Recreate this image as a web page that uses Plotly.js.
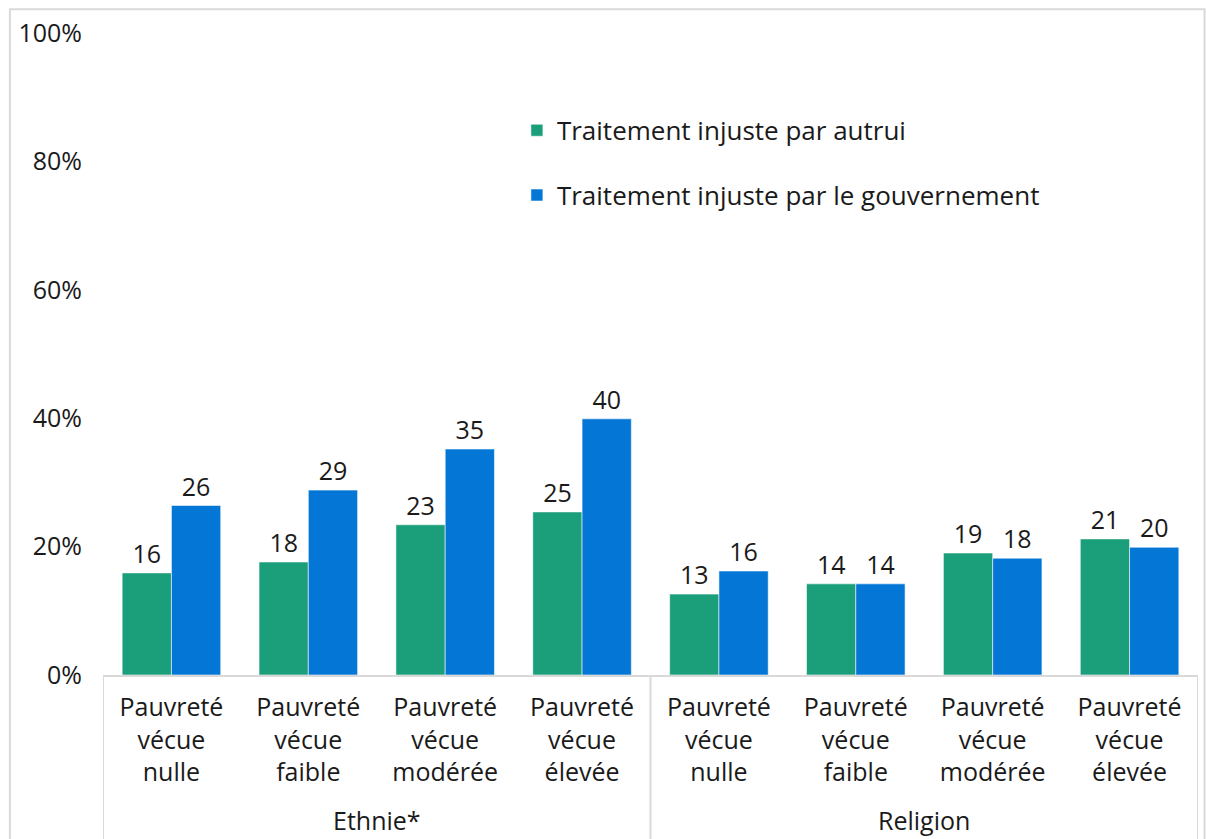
<!DOCTYPE html>
<html>
<head>
<meta charset="utf-8">
<script src="https://cdn.plot.ly/plotly-3.0.1.min.js"></script>
<style>html,body{margin:0;padding:0;background:#fff;}#chart{width:1206px;height:839px;}</style>
</head>
<body>
<div id="chart"></div>
<script>
// Data
const categories = [
  "Pauvreté<br>vécue<br>nulle", "Pauvreté<br>vécue<br>faible", "Pauvreté<br>vécue<br>modérée", "Pauvreté<br>vécue<br>élevée",
  "Pauvreté<br>vécue<br>nulle", "Pauvreté<br>vécue<br>faible", "Pauvreté<br>vécue<br>modérée", "Pauvreté<br>vécue<br>élevée"
];
const groups = ["Ethnie*", "Religion"];
const groupSize = 4;
const seriesNames = ["Traitement injuste par autrui", "Traitement injuste par le gouvernement"];
const autrui = [15.9, 17.6, 23.4, 25.4, 12.6, 14.2, 19.0, 21.2];
const gouvernement = [26.4, 28.8, 35.2, 39.9, 16.2, 14.2, 18.2, 19.9];
const yTickVals = [0, 20, 40, 60, 80, 100];
const yTickText = ["0%", "20%", "40%", "60%", "80%", "100%"];

const xIdx = categories.map((_, i) => i);
const FONT = "'Open Sans', 'Noto Sans', sans-serif";
const TXT = "#1a1a1a";
const colors = ["#1b9e7a", "#0477d6"];

function barTrace(vals, name, color, grp) {
  return {
    type: "bar", x: xIdx, y: vals, name: name, legendgroup: grp,
    marker: {color: color, line: {color: "rgba(255,255,255,0.55)", width: 1}},
    text: vals.map(v => Math.round(v).toString()),
    textposition: "outside", cliponaxis: false,
    textfont: {family: FONT, size: 25, color: TXT},
    hoverinfo: "skip"
  };
}

const data = [
  barTrace(autrui, seriesNames[0], colors[0], "a"),
  barTrace(gouvernement, seriesNames[1], colors[1], "b")
];

const shapes = [];
// outer frame
shapes.push({type: "rect", xref: "paper", yref: "paper", x0: -0.085, x1: 1.006, y0: -0.3, y1: 1.037,
  line: {color: "#d9d9d9", width: 2}, fillcolor: "rgba(0,0,0,0)", layer: "below"});
// group dividers
for (let g = 0; g <= groups.length; g++) {
  const xv = g * groupSize - 0.5;
  shapes.push({type: "line", xref: "x", yref: "paper", x0: xv, x1: xv, y0: 0, y1: -0.3,
    line: {color: "#d9d9d9", width: 2}});
}
const annotations = groups.map((g, i) => ({
  text: g, xref: "x", yref: "paper", x: i * groupSize + (groupSize - 1) / 2, y: -0.2555,
  showarrow: false, yanchor: "bottom", xanchor: "center",
  font: {family: FONT, size: 25, color: TXT}
}));

const layout = {
  width: 1206, height: 839,
  margin: {l: 103, r: 8, t: 33, b: 164},
  paper_bgcolor: "#ffffff", plot_bgcolor: "#ffffff",
  barmode: "group", bargap: 0.28, bargroupgap: 0,
  font: {family: FONT, size: 25, color: TXT},
  showlegend: true,
  legend: {x: 0.378, y: 0.885, xanchor: "left", yanchor: "top", orientation: "v",
    traceorder: "grouped", tracegroupgap: 28, bgcolor: "rgba(0,0,0,0)",
    font: {family: FONT, size: 26, color: TXT}},
  xaxis: {
    range: [-0.5, 7.5], tickmode: "array", tickvals: xIdx, ticktext: categories,
    showgrid: false, zeroline: false, showline: true, linecolor: "#d9d9d9", linewidth: 2,
    ticks: "", ticklabelstandoff: 9,
    tickfont: {family: FONT, size: 25, color: TXT}, fixedrange: true
  },
  yaxis: {
    range: [0, 100], tickmode: "array", tickvals: yTickVals, ticktext: yTickText,
    showgrid: false, zeroline: false, showline: false, ticks: "",
    ticklabelstandoff: 20,
    tickfont: {family: FONT, size: 25, color: TXT}, fixedrange: true
  },
  shapes: shapes, annotations: annotations
};

Plotly.newPlot("chart", data, layout, {staticPlot: true});
</script>
</body>
</html>
